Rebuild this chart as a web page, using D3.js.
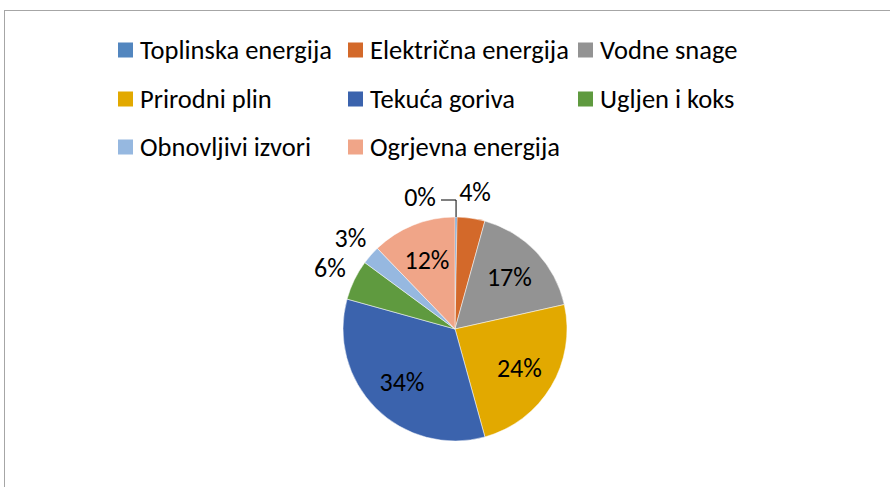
<!DOCTYPE html>
<html>
<head>
<meta charset="utf-8">
<script src="https://cdn.jsdelivr.net/npm/d3@7"></script>
<style>
  body { margin: 0; background: #fff; }
  svg text { font-family: Carlito, "Liberation Sans Narrow", "Open Sans", sans-serif; fill: #000; }
</style>
</head>
<body>
<div id="chart"></div>
<script>
// Pie chart: energy sources (shares in %)

const width = 890;
const height = 487;

// data
const categories = ["Toplinska energija", "Električna energija", "Vodne snage",
                    "Prirodni plin", "Tekuća goriva", "Ugljen i koks",
                    "Obnovljivi izvori", "Ogrjevna energija"];
const shares = [0.3, 4.0, 17.2, 24.2, 33.6, 5.8, 2.7, 12.2];
const colors = ["#5286bf", "#d3692a", "#939393", "#e2a900",
                "#3b63ad", "#5f9a3f", "#96b8e0", "#f0a588"];
// which labels sit outside the pie
const outside = [true, true, false, false, false, true, true, false];

const center = {x: 455, y: 329};
const radius = 112;

const svg = d3.select("#chart")
  .append("svg")
  .attr("width", width)
  .attr("height", height);

// chart area frame (cut off at right and bottom)
svg.append("rect")
  .attr("x", 4.5)
  .attr("y", 10.5)
  .attr("width", width + 20)
  .attr("height", height + 20)
  .attr("fill", "none")
  .attr("stroke", "#a6a6a6")
  .attr("stroke-width", 1);

/*
  Legend
*/
const legCols = [118, 348, 578];
const legRows = [50, 99, 147];

const legend = svg.append("g");
const items = legend.selectAll("g")
  .data(categories)
  .enter()
  .append("g")
  .attr("transform", (d, i) => `translate(${legCols[i % 3]}, ${legRows[Math.floor(i / 3)]})`);

items.append("rect")
  .attr("x", 0)
  .attr("y", -7.5)
  .attr("width", 15)
  .attr("height", 15)
  .attr("fill", (d, i) => colors[i]);

items.append("text")
  .attr("x", 22)
  .attr("y", 0)
  .attr("dy", "0.35em")
  .attr("font-size", "26.5px")
  .text(d => d);

/*
  Pie
*/
const pie = d3.pie().sort(null).value(d => d);
const arcs = pie(shares);

const arc = d3.arc().innerRadius(0).outerRadius(radius);
const inArc = d3.arc().innerRadius(radius * 0.67).outerRadius(radius * 0.67);
const outArc = d3.arc().innerRadius(radius + 27).outerRadius(radius + 27);

const g = svg.append("g")
  .attr("transform", `translate(${center.x}, ${center.y})`);

g.selectAll(".slice")
  .data(arcs)
  .enter()
  .append("path")
  .attr("class", "slice")
  .attr("d", arc)
  .attr("fill", (d, i) => colors[i])
  .attr("stroke", "#fff")
  .attr("stroke-width", 0.5);

// percent labels
const pct = d => Math.round(d.value) + "%";

g.selectAll(".lbl")
  .data(arcs)
  .enter()
  .append("text")
  .attr("class", "lbl")
  .attr("font-size", "26px")
  .attr("text-anchor", "middle")
  .attr("dy", "0.35em")
  .attr("transform", (d, i) => {
    if (i === 0) return `translate(-35, ${-radius - 20})`;
    const c = outside[i] ? outArc.centroid(d) : inArc.centroid(d);
    return `translate(${c[0]}, ${c[1]})`;
  })
  .text(pct);

// leader line for the tiny slice
const a0 = (arcs[0].startAngle + arcs[0].endAngle) / 2;
const tip = [Math.sin(a0) * radius, -Math.cos(a0) * radius];
g.append("polyline")
  .attr("points", [[-14, -radius - 17], [tip[0], -radius - 17], tip].join(" "))
  .attr("fill", "none")
  .attr("stroke", "#000")
  .attr("stroke-width", 1);
</script>
</body>
</html>
